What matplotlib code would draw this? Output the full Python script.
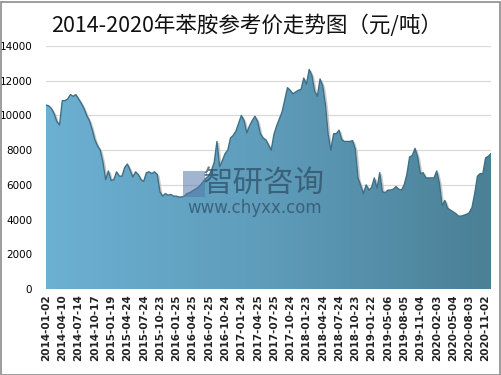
import matplotlib
matplotlib.use("Agg")
import matplotlib.pyplot as plt
import numpy as np
from matplotlib.colors import LinearSegmentedColormap
from matplotlib.patches import Rectangle

plt.rcParams['font.family'] = ['Noto Sans CJK SC', 'DejaVu Sans']

title = "2014-2020年苯胺参考价走势图（元/吨）"

tick_labels = [
    "2014-01-02", "2014-04-10", "2014-07-14", "2014-10-17", "2015-01-19",
    "2015-04-24", "2015-07-24", "2015-10-23", "2016-01-25", "2016-04-25",
    "2016-07-25", "2016-10-24", "2017-01-24", "2017-04-25", "2017-07-25",
    "2017-10-24", "2018-01-23", "2018-04-24", "2018-07-24", "2018-10-23",
    "2019-01-22", "2019-05-06", "2019-08-05", "2019-11-04", "2020-02-03",
    "2020-05-04", "2020-08-03", "2020-11-02",
]
points_per_label = 6

prices = [
    10600, 10550, 10400, 10100, 9650, 9450, 10850, 10850, 10950, 11200,
    11100, 11200, 10950, 10700, 10400, 10000, 9700, 9200, 8600, 8250,
    8000, 7300, 6300, 6800, 6250, 6300, 6750, 6500, 6500, 7000,
    7200, 6850, 6450, 6750, 6600, 6300, 6200, 6700, 6750, 6650,
    6750, 6600, 5600, 5350, 5500, 5400, 5450, 5350, 5350, 5300,
    5300, 5350, 5500, 5550, 5650, 5750, 5850, 6000, 6200, 6400,
    6500, 6850, 7300, 8500, 7050, 7400, 7800, 8000, 8700, 8850,
    9100, 9550, 10000, 9700, 9000, 9400, 9700, 9950, 9650, 8950,
    8700, 8600, 8300, 8000, 8900, 9400, 9800, 10200, 10900, 11600,
    11450, 11250, 11350, 11450, 11500, 12150, 11800, 12650, 12300, 11400,
    11100, 12100, 11700, 10600, 8900, 8000, 8950, 8950, 9150, 8600,
    8500, 8500, 8500, 8550, 8050, 6400, 5950, 5500, 6000, 5700,
    5850, 6400, 5800, 6700, 5600, 5550, 5700, 5700, 5750, 5900,
    5750, 5700, 6000, 6600, 7600, 7700, 8100, 7600, 6650, 6700,
    6400, 6400, 6400, 6400, 6800, 6100, 4800, 5100, 4650, 4550,
    4450, 4350, 4200, 4200, 4250, 4300, 4400, 4700, 5500, 6500,
    6650, 6650, 7550, 7650, 7800,
]
y_ticks = [0, 2000, 4000, 6000, 8000, 10000, 12000, 14000]

W, H = 501, 375
fig = plt.figure(figsize=(W / 100, H / 100), dpi=100)
fig.patch.set_facecolor('white')
fig.add_artist(Rectangle((0.5 / W, 0.5 / H), (W - 2) / W, (H - 2) / H,
                         transform=fig.transFigure, fill=False,
                         edgecolor='#8c8c8c', linewidth=1.2))

ax = fig.add_axes([46 / W, 1 - 289 / H, (491 - 46) / W, (289 - 46) / H])
x = np.arange(len(prices))
y = np.array(prices, dtype=float)

ax.set_xlim(0, len(prices) - 1)
ax.set_ylim(0, 14000)

for v in y_ticks[1:]:
    ax.axhline(v, color='#d9d9d9', linewidth=0.9, zorder=0)

# shadow line
ax.plot(x + 0.6, y - 120, color='#bfbfbf', linewidth=1.2, zorder=1, alpha=0.8)

poly = ax.fill_between(x, 0, y, facecolor='none', edgecolor='none', zorder=2)
cmap = LinearSegmentedColormap.from_list('g', ['#6cb0d2', '#5e9cba', '#4b8096'])
grad = np.linspace(0, 1, 256).reshape(1, -1)
im = ax.imshow(grad, cmap=cmap, aspect='auto', extent=[0, len(prices) - 1, 0, 14000],
               origin='lower', zorder=2)
path = poly.get_paths()[0]
im.set_clip_path(path, transform=ax.transData)
ax.plot(x, y, color='#3f6f84', linewidth=1.0, zorder=3)

ax.set_yticks(y_ticks)
ax.set_yticklabels([str(v) for v in y_ticks], fontsize=7.5, family=['DejaVu Sans'])
ax.set_xticks(np.arange(len(tick_labels)) * points_per_label)
ax.set_xticklabels(tick_labels, rotation=90, fontsize=7.5, fontweight='bold',
                   family=['DejaVu Sans'], color='#222222')
ax.tick_params(axis='both', length=0, pad=4)
ax.tick_params(axis='y', pad=10)
for s in ax.spines.values():
    s.set_visible(False)

# title
fig.text(247 / W, 1 - 26 / H, title, ha='center', va='center', fontsize=15.5,
         fontweight='medium', color='#111111')

# watermark
fig.text(264 / W, 1 - 183 / H, "智研咨询", ha='center', va='center', fontsize=22,
         color='#2f4f66', alpha=0.75, zorder=5)
fig.text(255 / W, 1 - 208 / H, "www.chyxx.com", ha='center', va='center', fontsize=12,
         color='#2f4f66', alpha=0.75, zorder=5, family=['DejaVu Sans'])
fig.add_artist(Rectangle((183 / W, 1 - 197 / H), 22 / W, 26 / H, transform=fig.transFigure,
                         facecolor='#5577aa', alpha=0.55, edgecolor='none', zorder=5))

fig.savefig('out.png', dpi=100)
